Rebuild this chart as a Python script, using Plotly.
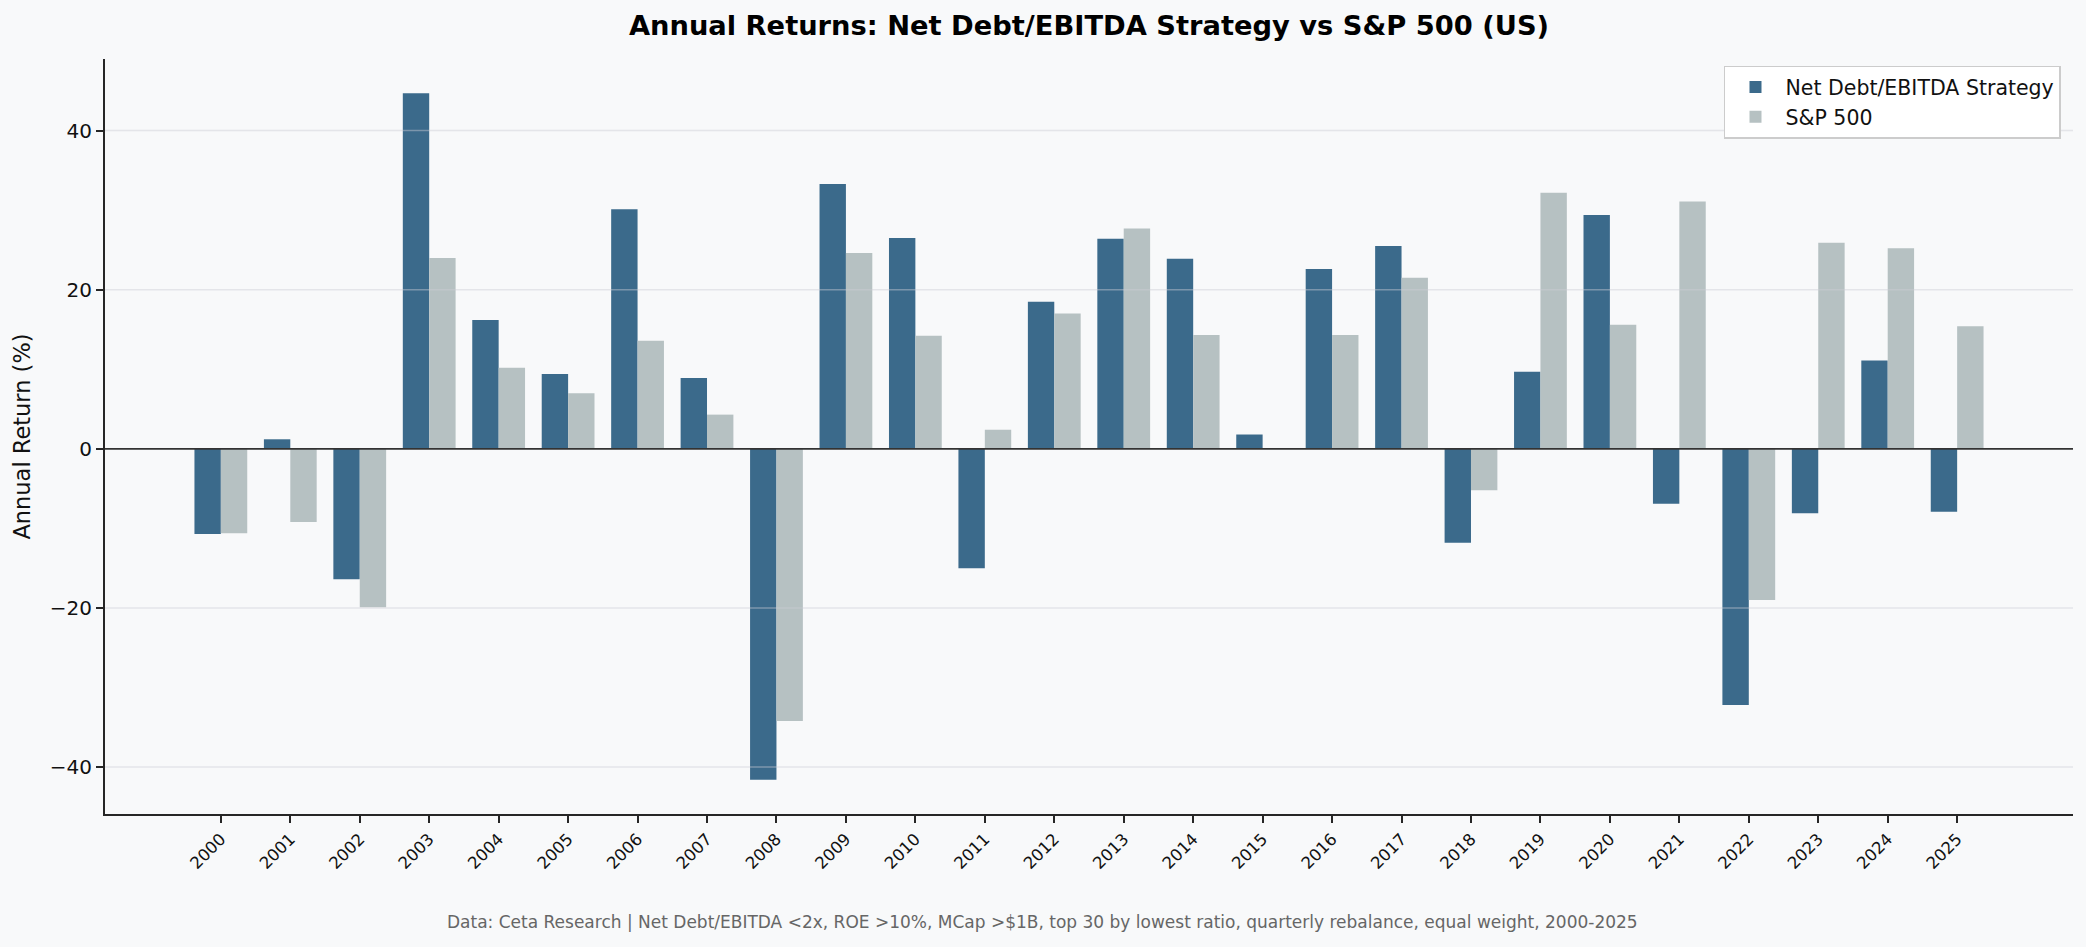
import plotly.graph_objects as go

# annual returns (%)
years = [str(y) for y in range(2000, 2026)]
strategy_returns = [
    -10.7, 1.2, -16.4, 44.7, 16.2, 9.4, 30.1, 8.9, -41.6, 33.3,
    26.5, -15.0, 18.5, 26.4, 23.9, 1.8, 22.6, 25.5, -11.8, 9.7,
    29.4, -6.9, -32.2, -8.1, 11.1, -7.9,
]
sp500_returns = [
    -10.6, -9.2, -19.9, 24.0, 10.2, 7.0, 13.6, 4.3, -34.2, 24.6,
    14.2, 2.4, 17.0, 27.7, 14.3, 0.0, 14.3, 21.5, -5.2, 32.2,
    15.6, 31.1, -19.0, 25.9, 25.2, 15.4,
]
grid_values = [-40, -20, 20, 40]

BG = "#f8f9fa"
FONT = "DejaVu Sans"

fig = go.Figure()
fig.add_trace(go.Bar(
    x=years, y=strategy_returns, name="Net Debt/EBITDA Strategy",
    marker=dict(color="#3b6a8b", line=dict(width=0)),
))
fig.add_trace(go.Bar(
    x=years, y=sp500_returns, name="S&P 500",
    marker=dict(color="#b6c1c2", line=dict(width=0)),
))

# grid drawn over the bars, like the original
for g in grid_values:
    fig.add_shape(type="line", xref="paper", x0=0, x1=1, y0=g, y1=g,
                  line=dict(color="rgba(205,205,212,0.45)", width=1.5), layer="above")
fig.add_shape(type="line", xref="paper", x0=0, x1=1, y0=0, y1=0,
              line=dict(color="#333333", width=1.6), layer="above")

fig.update_layout(
    width=2086, height=947,
    margin=dict(l=105, r=13, t=59, b=133),
    paper_bgcolor=BG, plot_bgcolor=BG,
    font=dict(family=FONT, color="#111111", size=20),
    barmode="group", bargap=0.24, bargroupgap=0,
    title=dict(
        text="<b>Annual Returns: Net Debt/EBITDA Strategy vs S&P 500 (US)</b>",
        x=0.5, xref="paper", y=1 - 25 / 947, yref="container", yanchor="middle",
        font=dict(size=27.3, color="#000000"),
    ),
    legend=dict(
        x=0.9939, xanchor="right", y=0.991, yanchor="top",
        bgcolor="#ffffff", bordercolor="#cccccc", borderwidth=1.5,
        font=dict(size=20.5, color="#111111"), itemwidth=50,
    ),
    showlegend=True,
)

fig.update_xaxes(
    type="category", range=[-1.668, 26.668], automargin=False,
    showline=True, linecolor="#262626", linewidth=2,
    ticks="outside", ticklen=7, tickwidth=2, tickcolor="#262626",
    tickangle=-45, tickfont=dict(size=16.5),
    showgrid=False, zeroline=False,
)
fig.update_yaxes(
    range=[-45.9, 49.0], tickvals=[-40, -20, 0, 20, 40], automargin=False,
    showline=True, linecolor="#262626", linewidth=2,
    ticks="outside", ticklen=7, tickwidth=2, tickcolor="#262626",
    tickfont=dict(size=20),
    showgrid=False, zeroline=False,
    title=dict(text="Annual Return (%)", font=dict(size=22.5), standoff=13),
)

fig.add_annotation(
    text="Data: Ceta Research | Net Debt/EBITDA <2x, ROE >10%, MCap >$1B, top 30 by lowest ratio, "
         "quarterly rebalance, equal weight, 2000-2025",
    xref="paper", yref="paper", x=0.4766, y=-0.1436,
    xanchor="center", yanchor="middle", showarrow=False,
    font=dict(size=17, color="#666666"),
)

# drop the browser's default body margin so the figure sits at the page corner
fig.write_html(
    "out.html",
    config={"displayModeBar": False},
    post_script="document.body.style.margin='0'; document.body.style.background='%s';" % BG,
)
